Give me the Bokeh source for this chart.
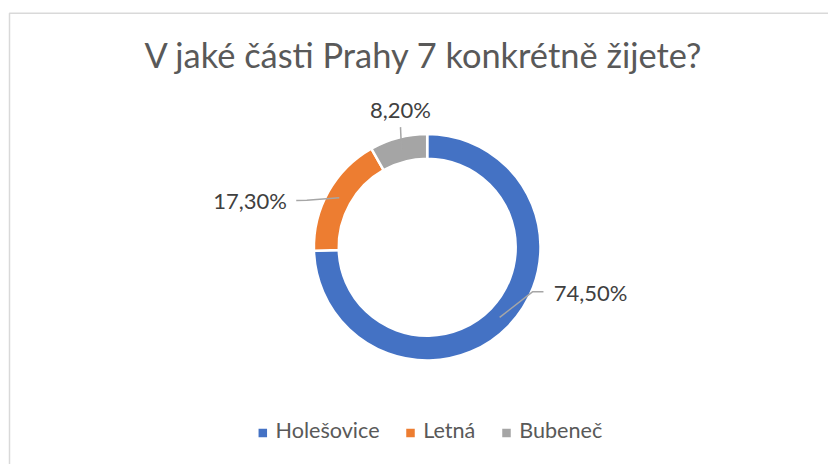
import math
from bokeh.plotting import figure
from bokeh.models import Range1d, ColumnDataSource
from bokeh.core.properties import value
from bokeh.embed import file_html
from bokeh.resources import INLINE

# ---- data ----
title_text = "V jaké části Prahy 7 konkrétně žijete?"
categories = ["Holešovice", "Letná", "Bubeneč"]
percents = [74.5, 17.3, 8.2]
colors = ["#4472C4", "#ED7D31", "#A5A5A5"]

# ---- layout (pixel-based data space) ----
W, H = 828, 464
FONT = "Lato"
cx, cy = 426.7, 217.3
r_out, r_in = 113.3, 88.5
r_mid = (r_out + r_in) / 2
BASE_FIX = 0.42  # baseline correction (fraction of font size)

# leader/label offsets from the slice anchor (screen px, y down)
leader_elbow = [(32.8, -25.6), (-32.4, 2.5), (-1.0, -22.5)]
leader_end = [(43.8, -25.6), (-43.0, 2.8), (-1.0, -22.5)]
label_off = [(54.0, -15.9), (-52.4, 11.5), (-1.1, -31.2)]
label_align = ["left", "right", "center"]
LABEL_FS = 22.0
TITLE_FS = 34.4
LEGEND_FS = 21.6

legend_x = [262.3, 410.0, 506.0]  # square centres (data x)
legend_y = 31.5
legend_text_dx = 12.7
legend_baseline = 25.0

p = figure(width=W, height=H, output_backend="svg", toolbar_location=None,
           x_range=Range1d(0, W), y_range=Range1d(0, H), min_border=0,
           background_fill_color="white", border_fill_color="white")
p.axis.visible = False
p.grid.visible = False
p.outline_line_color = None

# chart border (partially visible, as in the cropped reference)
p.line(x=[9, 9, W], y=[0, H - 12.7, H - 12.7], line_color="#D9D9D9", line_width=1.5)

# wedges
total = sum(percents)
starts, ends, mids = [], [], []
a = math.pi / 2
for v in percents:
    sweep = 2 * math.pi * v / total
    starts.append(a)
    ends.append(a - sweep)
    mids.append(a - sweep / 2)
    a -= sweep

src = ColumnDataSource(dict(start=starts, end=ends, color=colors, cat=categories))
p.annular_wedge(x=cx, y=cy, inner_radius=r_in, outer_radius=r_out,
                start_angle="start", end_angle="end", direction="clock",
                fill_color="color", line_color="white", line_width=2.5, source=src)

# leader lines and labels
xs, ys = [], []
lx, ly, ltxt = [], [], []
for i, (m, v) in enumerate(zip(mids, percents)):
    ax = cx + r_mid * math.cos(m)
    ay = cy + r_mid * math.sin(m)
    ex, ey = leader_elbow[i]
    nx, ny = leader_end[i]
    xs.append([ax, ax + ex, ax + nx])
    ys.append([ay, ay - ey, ay - ny])
    ox, oy = label_off[i]
    lx.append(ax + ox)
    ly.append(ay - oy + BASE_FIX * LABEL_FS)
    ltxt.append(f"{v:.2f}".replace(".", ",") + "%")

p.multi_line(xs=xs, ys=ys, line_color="#A6A6A6", line_width=1.5)
for i in range(len(ltxt)):
    p.text(x=[lx[i]], y=[ly[i]], text=[ltxt[i]], text_font=value(FONT),
           text_font_size=f"{LABEL_FS}px", text_color="#404040",
           text_align=label_align[i], text_baseline="alphabetic")

# title
p.text(x=[423.5], y=[396 + BASE_FIX * TITLE_FS], text=[title_text], text_font=value(FONT),
       text_font_size=f"{TITLE_FS}px", text_color="#595959",
       text_align="center", text_baseline="alphabetic")

# legend
p.scatter(x=legend_x, y=[legend_y] * 3, marker="square", size=8.5,
          fill_color=colors, line_color=None)
p.text(x=[x + legend_text_dx for x in legend_x],
       y=[legend_baseline + BASE_FIX * LEGEND_FS] * 3,
       text=categories, text_font=value(FONT), text_font_size=f"{LEGEND_FS}px",
       text_color="#595959", text_align="left", text_baseline="alphabetic")

open("out.html", "w").write(file_html(p, INLINE))
